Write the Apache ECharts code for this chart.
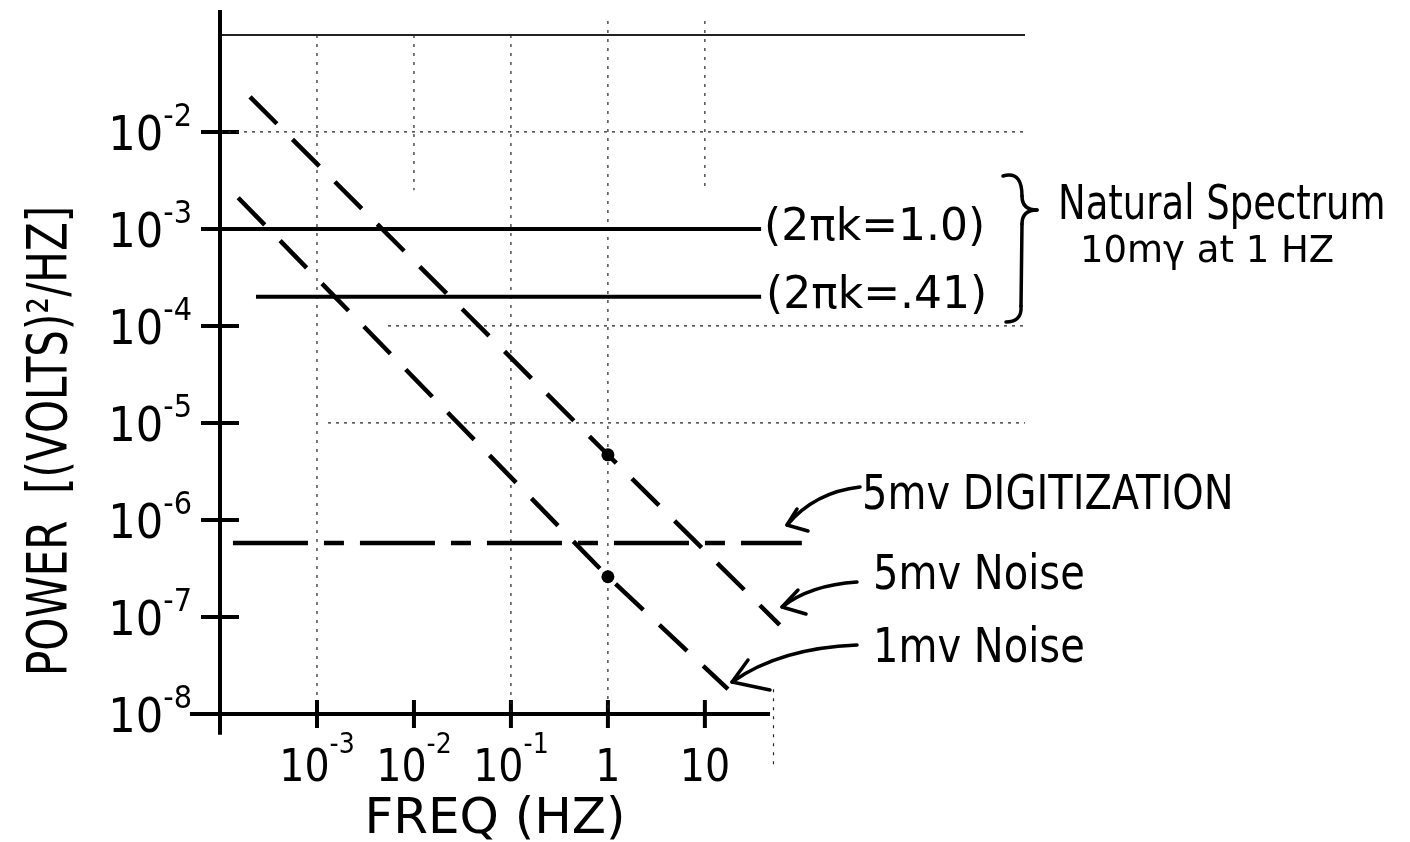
<!DOCTYPE html>
<html lang="en" style="height: 100%">
<head>
  <meta charset="utf-8">
</head>
<body style="height: 100%; margin: 0; background: #fff">
  <div id="container" style="width: 1410px; height: 842px"></div>

  <script type="text/javascript" src="https://fastly.jsdelivr.net/npm/echarts@6/dist/echarts.min.js"></script>
  <script type="text/javascript">
    // values: frequency in Hz, power in volts^2/Hz
    var xTickExps = [-3, -2, -1, 0, 1];
    var yTickExps = [-2, -3, -4, -5, -6, -7, -8];

    var natural10 = [[1.26e-4, 1e-3], [38, 1e-3]];
    var natural41 = [[2.35e-4, 2.0e-4], [38, 2.0e-4]];
    var digitization = [[1.36e-4, 5.8e-7], [100, 5.8e-7]];
    var noise5mv = [[2.04e-4, 2.3e-2], [1, 4.7e-6], [59, 8.3e-8]];
    var noise1mv = [[1.54e-4, 2.1e-3], [1, 2.6e-7], [17.3, 1.8e-8]];
    var markedAt1Hz = [[1, 4.7e-6], [1, 2.6e-7]];

    // hand-drawn axes (they cross at 1e-4 Hz, 1e-8)
    var xAxisLine = [[4.9e-5, 1e-8], [47, 1e-8]];
    var yAxisLine = [[1e-4, 0.181], [1e-4, 6.1e-9]];

    // bits of the graph paper that show through: [level, from, to]
    var paperH = [[1e-1, 1e-4, 2e4], [1e-2, 1e-4, 2e4], [1e-4, 5.4e-3, 2e4], [1e-5, 1.3e-3, 2e4]];
    var paperV = [[1e-3, 1e-1, 1.4e-8], [1e-2, 1e-1, 2.5e-3], [1e-1, 1e-1, 1e-8],
                  [1, 0.139, 1e-8], [10, 0.139, 2.5e-3], [51, 1.8e-8, 2.7e-9]];

    var dom = document.getElementById('container');
    var myChart = echarts.init(dom, null, { renderer: 'canvas' });

    var hand = '"DejaVu Sans", sans-serif';
    var narrow = '"Liberation Sans Narrow", "DejaVu Sans Condensed", "DejaVu Sans", sans-serif';

    function powLabel(exps, plainOne) {
      return function (v) {
        var l = Math.log10(v);
        var e = Math.round(l);
        if (Math.abs(l - e) > 1e-6 || exps.indexOf(e) < 0) return '';
        if (plainOne && e === 0) return '{b|1}';
        if (plainOne && e === 1) return '{b|10}';
        return '{b|10}{s|-' + (-e) + '}';
      };
    }
    function tickRich(big, small) {
      return {
        b: { fontSize: big, lineHeight: 60, fontFamily: narrow, color: '#000', verticalAlign: 'bottom' },
        s: { fontSize: small, lineHeight: 30, fontFamily: narrow, color: '#000', verticalAlign: 'top' }
      };
    }

    var series = [];
    paperH.forEach(function (h) {
      series.push({
        type: 'line', data: [[h[1], h[0]], [h[2], h[0]]], symbol: 'none', silent: true,
        lineStyle: { color: '#222', width: h[0] === 1e-1 ? 2 : 1.2, type: h[0] === 1e-1 ? 'solid' : [3, 5] }
      });
    });
    paperV.forEach(function (v) {
      series.push({
        type: 'line', data: [[v[0], v[1]], [v[0], v[2]]], symbol: 'none', silent: true,
        lineStyle: { color: '#222', width: 1.2, type: [3, 6] }
      });
    });
    series.push(
      { type: 'line', data: xAxisLine, symbol: 'none', lineStyle: { color: '#000', width: 4 } },
      { type: 'line', data: yAxisLine, symbol: 'none', lineStyle: { color: '#000', width: 4 } },
      {
        type: 'scatter', symbol: 'rect', symbolSize: [4, 28], itemStyle: { color: '#000', opacity: 1 },
        data: xTickExps.map(function (e) { return [Math.pow(10, e), 1e-8]; })
      },
      {
        type: 'scatter', symbol: 'rect', symbolSize: [38, 4], itemStyle: { color: '#000', opacity: 1 },
        data: yTickExps.slice(0, 6).map(function (e) { return [1e-4, Math.pow(10, e)]; })
      },
      {
        type: 'line', data: natural10, symbol: 'none', lineStyle: { color: '#000', width: 4 },
        endLabel: { show: true, formatter: '(2πk=1.0)', fontSize: 44, fontFamily: hand, color: '#000', distance: 3 }
      },
      {
        type: 'line', data: natural41, symbol: 'none', lineStyle: { color: '#000', width: 4 },
        endLabel: { show: true, formatter: '(2πk=.41)', fontSize: 44, fontFamily: hand, color: '#000', distance: 5 }
      },
      { type: 'line', data: digitization, symbol: 'none', lineStyle: { color: '#000', width: 4.5, type: [75, 16, 20, 16] } },
      { type: 'line', data: noise5mv, symbol: 'none', lineStyle: { color: '#000', width: 4.5, type: [38, 22] } },
      { type: 'line', data: noise1mv, symbol: 'none', lineStyle: { color: '#000', width: 4.5, type: [38, 22] } },
      { type: 'scatter', data: markedAt1Hz, symbolSize: 13, z: 5, itemStyle: { color: '#000', opacity: 1 } }
    );

    function txt(s, x, y, size, opts) {
      opts = opts || {};
      return {
        type: 'text', x: x, y: y, rotation: opts.rotation || 0, scaleY: opts.scaleY || 1,
        style: {
          text: s, font: size + 'px ' + hand, fill: '#000',
          align: opts.align || 'left', verticalAlign: 'middle'
        }
      };
    }
    var ink = { stroke: '#000', lineWidth: 3.5, fill: null, lineCap: 'round', lineJoin: 'round' };
    function curve(x1, y1, cx, cy, x2, y2) {
      return { type: 'bezierCurve', shape: { x1: x1, y1: y1, cpx1: cx, cpy1: cy, x2: x2, y2: y2 }, style: ink };
    }
    function curve3(x1, y1, ax, ay, bx, by, x2, y2) {
      return { type: 'bezierCurve', shape: { x1: x1, y1: y1, cpx1: ax, cpy1: ay, cpx2: bx, cpy2: by, x2: x2, y2: y2 }, style: ink };
    }
    function poly(pts) {
      return { type: 'polyline', shape: { points: pts }, style: ink };
    }

    var option = {
      animation: false,
      backgroundColor: '#fff',
      grid: { left: 188.2, right: 385, top: 7.9, bottom: 69.6 },
      xAxis: {
        type: 'log', logBase: 10, min: 4.7e-5, max: 2e4,
        offset: -58.4,
        axisLine: { show: false }, axisTick: { show: false }, splitLine: { show: false },
        axisLabel: { margin: 18, formatter: powLabel(xTickExps, true), rich: tickRich(44, 28) }
      },
      yAxis: {
        type: 'log', logBase: 10, min: 2.5e-9, max: 0.19,
        offset: -31.8,
        axisLine: { show: false }, axisTick: { show: false }, splitLine: { show: false },
        axisLabel: { margin: 28, formatter: powLabel(yTickExps, false), rich: tickRich(48, 32) }
      },
      series: series,
      graphic: [
        // brace grouping the two natural spectrum lines
        curve3(1003, 176, 1018, 172, 1022, 182, 1022, 196),
        curve3(1022, 196, 1022, 206, 1028, 210, 1037, 210),
        curve3(1037, 210, 1028, 210, 1022, 214, 1022, 224),
        poly([[1022, 224], [1021, 306]]),
        curve3(1021, 306, 1022, 318, 1015, 322, 1006, 322),
        txt('Natural Spectrum', 1058, 207, 37, { scaleY: 1.3 }),
        txt('10mγ at 1 HZ', 1080, 252, 37),
        // arrows to the lines
        curve(860, 487, 815, 492, 787, 525),
        poly([[797, 509], [787, 525], [808, 531]]),
        txt('5mv DIGITIZATION', 862, 497, 40, { scaleY: 1.2 }),
        curve(857, 582, 810, 585, 782, 607),
        poly([[798, 590], [782, 607], [806, 614]]),
        txt('5mv Noise', 873, 577, 40, { scaleY: 1.2 }),
        curve(857, 645, 780, 648, 732, 682),
        poly([[748, 660], [732, 682], [770, 690]]),
        txt('1mv Noise', 873, 650, 40, { scaleY: 1.2 }),
        // axis titles
        txt('FREQ (HZ)', 495, 820, 50, { align: 'center' }),
        txt('POWER  [(VOLTS)²/HZ]', 52, 441, 42, { align: 'center', rotation: Math.PI / 2, scaleY: 1.3 })
      ]
    };

    myChart.setOption(option);
    window.addEventListener('resize', myChart.resize);
  </script>
</body>
</html>
